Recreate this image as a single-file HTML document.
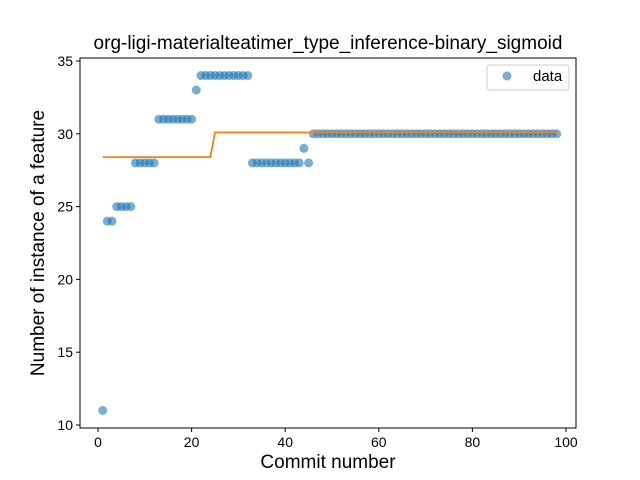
<!DOCTYPE html>
<html><head><meta charset="utf-8"><style>body{margin:0;background:#fff}svg{display:block;font-family:"Liberation Sans","DejaVu Sans",sans-serif}</style></head>
<body>
<svg id="chart" width="640" height="480"></svg>
<script>
const xs = [1,2,3,4,5,6,7,8,9,10,11,12,13,14,15,16,17,18,19,20,21,22,23,24,25,26,27,28,29,30,31,32,33,34,35,36,37,38,39,40,41,42,43,44,45];
const ys = [11,24,24,25,25,25,25,28,28,28,28,28,31,31,31,31,31,31,31,31,33,34,34,34,34,34,34,34,34,34,34,34,28,28,28,28,28,28,28,28,28,28,28,29,28];
const tailStart = 46, tailEnd = 98, tailValue = 30;
const fitX = [1,24,25,98];
const fitY = [28.4,28.4,30.1,30.1];
const xTicks = [0,20,40,60,80,100];
const yTicks = [10,15,20,25,30,35];
const NS='http://www.w3.org/2000/svg';
const svg=document.getElementById('chart');
const L=80,R=576,T=58,B=428;
const xS=v=>98+(v-0)*(566-98)/100;
const yS=v=>425-(v-10)*(425-61)/25;
function mk(tag,attrs,parent){const e=document.createElementNS(NS,tag);for(const k in attrs)e.setAttribute(k,attrs[k]);(parent||svg).appendChild(e);return e;}
let allX=xs.slice(),allY=ys.slice();
for(let x=tailStart;x<=tailEnd;x++){allX.push(x);allY.push(tailValue);}
const pts=mk('g',{});


allX.forEach((x,i)=>{const c=mk('circle',{cx:xS(x),cy:yS(allY[i]),r:4.5,fill:'#1f77b4','fill-opacity':0.6},pts);

});
const line=mk('polyline',{points:fitX.map((x,i)=>xS(x)+','+yS(fitY[i])).join(' '),fill:'none',stroke:'#ff7f0e','stroke-width':1.8});


const frame=mk('rect',{x:L,y:T,width:R-L,height:B-T,fill:'none',stroke:'#000','stroke-width':1});


xTicks.forEach(t=>{const x=xS(t);mk('line',{x1:x,x2:x,y1:B,y2:B+4,stroke:'#000'});
const tx=mk('text',{x:x,y:B+19,'text-anchor':'middle','font-size':14});tx.textContent=t;

});
yTicks.forEach(t=>{const y=yS(t);mk('line',{x1:L-4,x2:L,y1:y,y2:y,stroke:'#000'});
const tx=mk('text',{x:L-7,y:y+5,'text-anchor':'end','font-size':14});tx.textContent=t;

});
const title=mk('text',{x:328,y:49,'text-anchor':'middle','font-size':19});title.textContent='org-ligi-materialteatimer_type_inference-binary_sigmoid';


const xl=mk('text',{x:328,y:468,'text-anchor':'middle','font-size':19});xl.textContent='Commit number';


const yl=mk('text',{x:0,y:0,'text-anchor':'middle','font-size':19,transform:'translate(44,243) rotate(-90)'});yl.textContent='Number of instance of a feature';


const lg=mk('g',{});


mk('rect',{x:487,y:65,width:82,height:25,rx:3,fill:'#fff',stroke:'#ccc'},lg);
mk('circle',{cx:507,cy:76,r:4.5,fill:'#1f77b4','fill-opacity':0.6},lg);
const lt=mk('text',{x:533,y:81,'font-size':15},lg);lt.textContent='data';


</script>
</body></html>
